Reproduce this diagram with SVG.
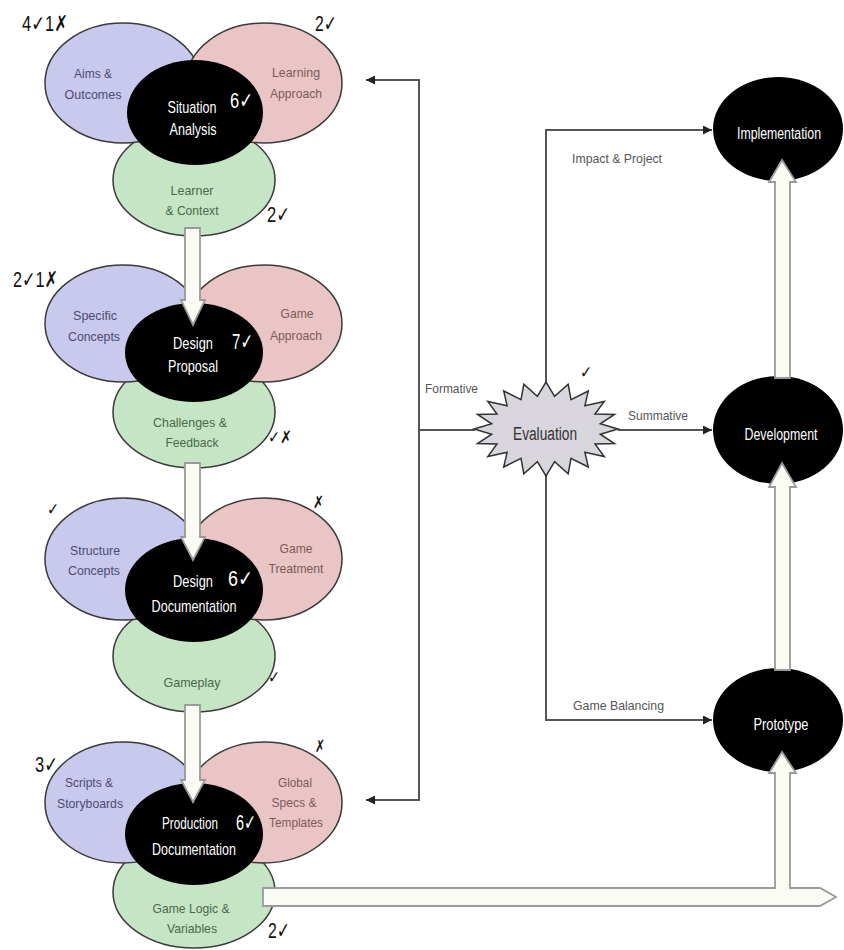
<svg xmlns="http://www.w3.org/2000/svg" width="844" height="950" viewBox="0 0 844 950">
<style>
.bg{fill:#ffffff}
.blue{fill:#c8c9ec;stroke:#3a3a3a;stroke-width:1.5}
.pink{fill:#e9c5c5;stroke:#3a3a3a;stroke-width:1.5}
.green{fill:#c6e5c4;stroke:#3a3a3a;stroke-width:1.5}
.core{fill:#000}
text{font-family:"Liberation Sans",Arial,"DejaVu Sans",sans-serif}
.tb{font-size:13px;fill:#4d4b72;text-anchor:middle}
.tp{font-size:13px;fill:#7d5a5a;text-anchor:middle}
.tg{font-size:13px;fill:#4a694a;text-anchor:middle}
.tw{font-size:17px;fill:#ffffff;text-anchor:middle}
.sw{font-size:22px;fill:#ffffff}
.sk{font-size:22px;fill:#111111}
.sks{font-size:17px;fill:#111111}
.lab{font-size:13px;fill:#555555}
.big{font-size:16px;fill:#ffffff;text-anchor:middle}
.ev{font-size:18px;fill:#333333;text-anchor:middle}
.conn{fill:none;stroke:#555555;stroke-width:2}
.blk{fill:#fbfbf5;stroke:#9a9a9a;stroke-width:1.8;stroke-linejoin:miter}
.star{fill:#d9d5dc;stroke:#333333;stroke-width:1.5}
</style>
<defs>
<marker id="ah" viewBox="0 0 10 10" refX="10" refY="5" markerWidth="9" markerHeight="9" markerUnits="userSpaceOnUse" orient="auto">
<path d="M0,0 L10,5 L0,10 Z" fill="#222"/>
</marker>
</defs>
<rect class="bg" x="0" y="0" width="844" height="950"/>

<!-- Cluster 1 -->
<g id="learner-context"><ellipse class="green" cx="194" cy="180" rx="81" ry="56"/>
<text class="tg" x="192" y="195" textLength="43" lengthAdjust="spacingAndGlyphs">Learner</text>
<text class="tg" x="192" y="215" textLength="53" lengthAdjust="spacingAndGlyphs">&amp; Context</text></g>
<g id="aims-outcomes"><ellipse class="blue" cx="123" cy="83" rx="78" ry="60"/>
<text class="tb" x="93" y="78" textLength="38" lengthAdjust="spacingAndGlyphs">Aims &amp;</text>
<text class="tb" x="93" y="99" textLength="57" lengthAdjust="spacingAndGlyphs">Outcomes</text></g>
<g id="learning-approach"><ellipse class="pink" cx="264" cy="83" rx="78" ry="60"/>
<text class="tp" x="296" y="77" textLength="48" lengthAdjust="spacingAndGlyphs">Learning</text>
<text class="tp" x="296" y="98" textLength="52" lengthAdjust="spacingAndGlyphs">Approach</text></g>
<g id="situation-analysis"><ellipse class="core" cx="195" cy="112.5" rx="68" ry="52.5"/>
<text class="tw" x="192" y="113" textLength="49" lengthAdjust="spacingAndGlyphs">Situation</text>
<text class="tw" x="193" y="135" textLength="47" lengthAdjust="spacingAndGlyphs">Analysis</text>
<text class="sw" x="230" y="108" textLength="23" lengthAdjust="spacingAndGlyphs">6✓</text></g>
<g id="scores-1">
<text class="sk" x="22" y="31" textLength="46" lengthAdjust="spacingAndGlyphs">4✓1✗</text>
<text class="sk" x="315" y="31" textLength="22" lengthAdjust="spacingAndGlyphs">2✓</text>
<text class="sk" x="267" y="222" textLength="23" lengthAdjust="spacingAndGlyphs">2✓</text></g>

<!-- Cluster 2 -->
<g id="challenges-feedback"><ellipse class="green" cx="194" cy="412" rx="81" ry="56"/>
<text class="tg" x="190" y="427" textLength="74" lengthAdjust="spacingAndGlyphs">Challenges &amp;</text>
<text class="tg" x="192" y="447" textLength="53" lengthAdjust="spacingAndGlyphs">Feedback</text></g>
<g id="specific-concepts"><ellipse class="blue" cx="123" cy="323.5" rx="78" ry="58.5"/>
<text class="tb" x="95" y="320" textLength="44" lengthAdjust="spacingAndGlyphs">Specific</text>
<text class="tb" x="94" y="341" textLength="52" lengthAdjust="spacingAndGlyphs">Concepts</text></g>
<g id="game-approach"><ellipse class="pink" cx="264" cy="323.5" rx="78" ry="58.5"/>
<text class="tp" x="297" y="318" textLength="33" lengthAdjust="spacingAndGlyphs">Game</text>
<text class="tp" x="296" y="340" textLength="52" lengthAdjust="spacingAndGlyphs">Approach</text></g>
<g id="design-proposal"><ellipse class="core" cx="194" cy="352.5" rx="69" ry="49.5"/>
<text class="tw" x="193" y="349" textLength="40" lengthAdjust="spacingAndGlyphs">Design</text>
<text class="tw" x="193" y="372" textLength="50" lengthAdjust="spacingAndGlyphs">Proposal</text>
<text class="sw" x="232" y="349" textLength="21" lengthAdjust="spacingAndGlyphs">7✓</text></g>
<g id="scores-2">
<text class="sk" x="13" y="287" textLength="45" lengthAdjust="spacingAndGlyphs">2✓1✗</text>
<text class="sks" x="268" y="443" textLength="24" lengthAdjust="spacingAndGlyphs">✓✗</text></g>

<!-- Cluster 3 -->
<g id="gameplay"><ellipse class="green" cx="194" cy="656" rx="81" ry="56"/>
<text class="tg" x="192" y="687" textLength="57" lengthAdjust="spacingAndGlyphs">Gameplay</text></g>
<g id="structure-concepts"><ellipse class="blue" cx="123" cy="559" rx="78" ry="61"/>
<text class="tb" x="95" y="555" textLength="50" lengthAdjust="spacingAndGlyphs">Structure</text>
<text class="tb" x="94" y="575" textLength="52" lengthAdjust="spacingAndGlyphs">Concepts</text></g>
<g id="game-treatment"><ellipse class="pink" cx="264" cy="559" rx="78" ry="61"/>
<text class="tp" x="296" y="553" textLength="33" lengthAdjust="spacingAndGlyphs">Game</text>
<text class="tp" x="296" y="573" textLength="55" lengthAdjust="spacingAndGlyphs">Treatment</text></g>
<g id="design-documentation"><ellipse class="core" cx="194" cy="590" rx="69" ry="52"/>
<text class="tw" x="193" y="587" textLength="40" lengthAdjust="spacingAndGlyphs">Design</text>
<text class="tw" x="194" y="612" textLength="85" lengthAdjust="spacingAndGlyphs">Documentation</text>
<text class="sw" x="228" y="586" textLength="25" lengthAdjust="spacingAndGlyphs">6✓</text></g>
<g id="scores-3">
<text class="sks" x="47" y="515" textLength="12" lengthAdjust="spacingAndGlyphs">✓</text>
<text class="sks" x="313" y="508" textLength="11" lengthAdjust="spacingAndGlyphs">✗</text>
<text class="sks" x="268" y="683" textLength="12" lengthAdjust="spacingAndGlyphs">✓</text></g>

<!-- Cluster 4 -->
<g id="game-logic-variables"><ellipse class="green" cx="194" cy="892" rx="81" ry="56"/>
<text class="tg" x="191" y="913" textLength="77" lengthAdjust="spacingAndGlyphs">Game Logic &amp;</text>
<text class="tg" x="192" y="933" textLength="50" lengthAdjust="spacingAndGlyphs">Variables</text></g>
<g id="scripts-storyboards"><ellipse class="blue" cx="123" cy="802.5" rx="78" ry="60.5"/>
<text class="tb" x="89" y="787" textLength="48" lengthAdjust="spacingAndGlyphs">Scripts &amp;</text>
<text class="tb" x="90" y="808" textLength="66" lengthAdjust="spacingAndGlyphs">Storyboards</text></g>
<g id="global-specs-templates"><ellipse class="pink" cx="264" cy="802.5" rx="78" ry="60.5"/>
<text class="tp" x="295" y="787" textLength="34" lengthAdjust="spacingAndGlyphs">Global</text>
<text class="tp" x="294" y="807" textLength="45" lengthAdjust="spacingAndGlyphs">Specs &amp;</text>
<text class="tp" x="296" y="827" textLength="54" lengthAdjust="spacingAndGlyphs">Templates</text></g>
<g id="production-documentation"><ellipse class="core" cx="194" cy="834" rx="69" ry="51"/>
<text class="tw" x="190" y="829" textLength="56" lengthAdjust="spacingAndGlyphs">Production</text>
<text class="tw" x="194" y="855" textLength="84" lengthAdjust="spacingAndGlyphs">Documentation</text>
<text class="sw" x="236" y="830" textLength="20" lengthAdjust="spacingAndGlyphs">6✓</text></g>
<g id="scores-4">
<text class="sk" x="35" y="772" textLength="23" lengthAdjust="spacingAndGlyphs">3✓</text>
<text class="sks" x="315" y="752" textLength="10" lengthAdjust="spacingAndGlyphs">✗</text>
<text class="sk" x="268" y="938" textLength="22" lengthAdjust="spacingAndGlyphs">2✓</text></g>

<!-- Right side nodes -->
<g id="implementation"><ellipse class="core" cx="778" cy="129" rx="65" ry="52"/>
<text class="big" x="779" y="139" textLength="84" lengthAdjust="spacingAndGlyphs">Implementation</text></g>
<g id="development"><ellipse class="core" cx="778" cy="430" rx="65" ry="54"/>
<text class="big" x="781" y="440" textLength="73" lengthAdjust="spacingAndGlyphs">Development</text></g>
<g id="prototype"><ellipse class="core" cx="778" cy="720" rx="65" ry="52"/>
<text class="big" x="781" y="730" textLength="55" lengthAdjust="spacingAndGlyphs">Prototype</text></g>

<!-- Connectors -->
<g id="connectors">
<path class="conn" d="M419,430 L419,80 L366,80" marker-end="url(#ah)"/>
<path class="conn" d="M419,430 L419,800 L366,800" marker-end="url(#ah)"/>
<path class="conn" d="M419,430 L475,430"/>
<path class="conn" d="M546,383 L546,130 L712,130" marker-end="url(#ah)"/>
<path class="conn" d="M618,430 L712,430" marker-end="url(#ah)"/>
<path class="conn" d="M546,475 L546,720 L712,720" marker-end="url(#ah)"/>
<text class="lab" x="425" y="393" textLength="53" lengthAdjust="spacingAndGlyphs">Formative</text>
<text class="lab" x="572" y="163" textLength="90" lengthAdjust="spacingAndGlyphs">Impact &amp; Project</text>
<text class="lab" x="628" y="420" textLength="60" lengthAdjust="spacingAndGlyphs">Summative</text>
<text class="lab" x="573" y="710" textLength="91" lengthAdjust="spacingAndGlyphs">Game Balancing</text>
<path class="blk" d="M185,228 L200,228 L200,300 L205,300 L193,325 L181,300 L185,300 Z"/>
<path class="blk" d="M185,463 L200,463 L200,537 L205,537 L193,560 L181,537 L185,537 Z"/>
<path class="blk" d="M185,705 L200,705 L200,780 L205,780 L193,802 L181,780 L185,780 Z"/>
<path class="blk" d="M775,670 L775,487 L769,487 L782,463 L796,487 L790,487 L790,670 Z"/>
<path class="blk" d="M775,378 L775,182 L769,182 L782,160 L796,182 L790,182 L790,378 Z"/>
<path class="blk" d="M263,888 L775,888 L775,773 L769,773 L782,752 L796,773 L790,773 L790,888 L820,888 L836,897 L820,906 L263,906 Z"/>
</g>

<g id="evaluation">
<polygon class="star" points="618,429 600.3,434.2 614.5,443.5 595,444 604.2,456.6 584.9,452.3 588.3,467 571,458.4 568.2,473.7 554.6,461.6 546,476 537.4,461.6 523.8,473.7 521,458.4 503.7,467 507.1,452.3 487.8,456.6 497,444 477.5,443.5 491.7,434.2 474,429 491.7,423.8 477.5,414.5 497,414 487.8,401.4 507.1,405.7 503.7,391 521,399.6 523.8,384.3 537.4,396.4 546,382 554.6,396.4 568.2,384.3 571,399.6 588.3,391 584.9,405.7 604.2,401.4 595,414 614.5,414.5 600.3,423.8"/>
<text class="ev" x="545" y="440" textLength="64" lengthAdjust="spacingAndGlyphs">Evaluation</text>
<text class="sks" x="580" y="378" textLength="12" lengthAdjust="spacingAndGlyphs">✓</text>
</g>
</svg>
